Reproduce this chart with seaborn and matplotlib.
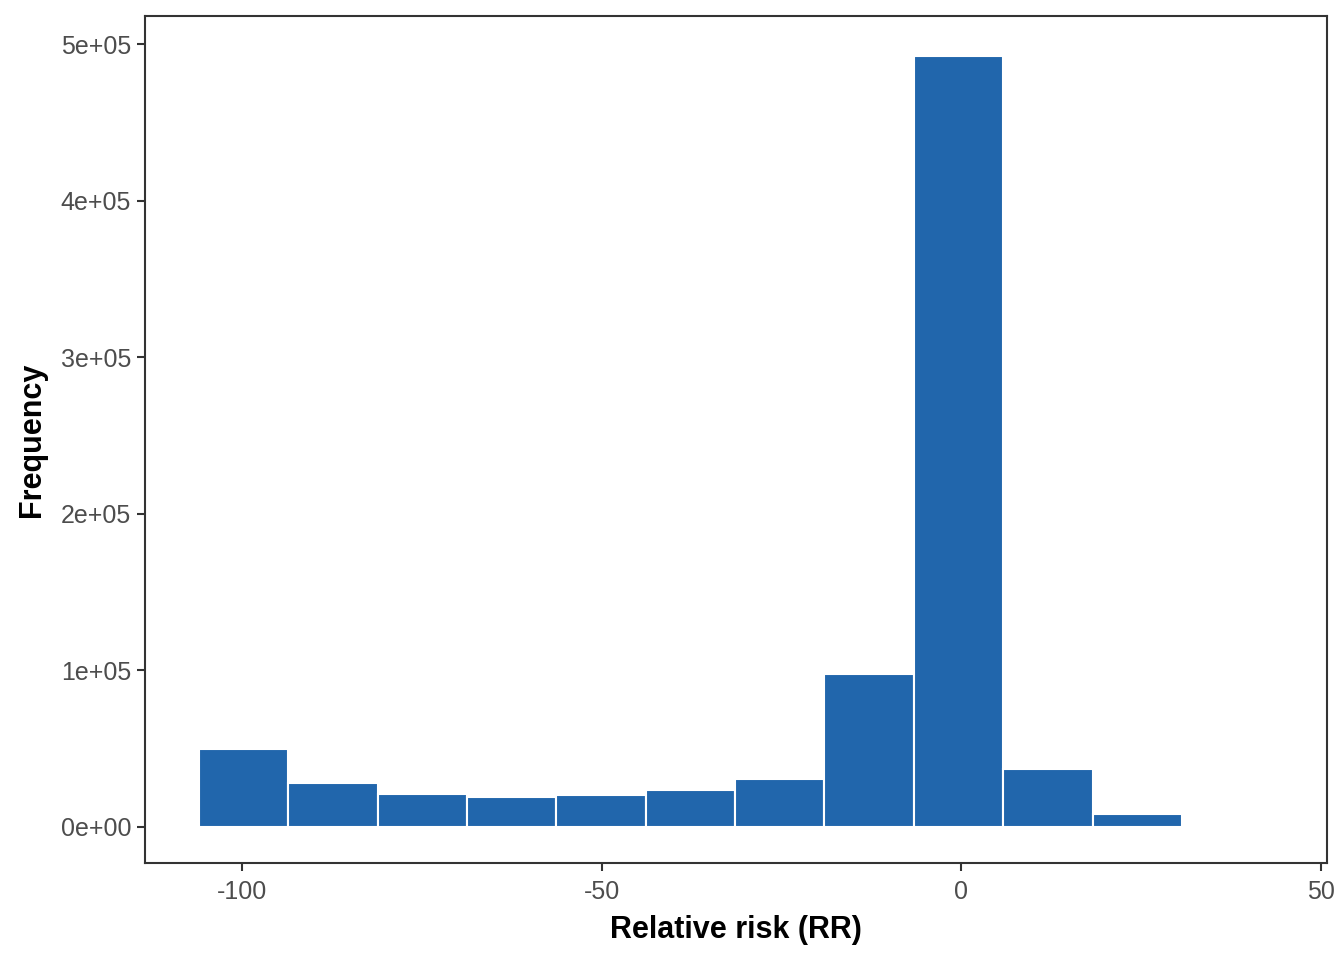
import numpy as np
import matplotlib
matplotlib.use("Agg")
import matplotlib.pyplot as plt
import seaborn as sns

# bin centres (RR) and counts
rr_centres = [-99.8, -87.4, -75.0, -62.5, -50.1, -37.7, -25.3, -12.8, -0.4, 12.0, 24.5]
counts = [49800, 28100, 21100, 19200, 20400, 23600, 30700, 97700, 492400, 37000, 8300]
bin_width = 12.43

sns.set_theme(style="white")
plt.rcParams['font.family'] = ['Liberation Sans', 'DejaVu Sans']
plt.rcParams['axes.unicode_minus'] = False

fig = plt.figure(figsize=(13.44, 9.6), dpi=100)
ax = fig.add_axes([145 / 1344, 1 - 863 / 960, 1182 / 1344, 847 / 960])

sns.histplot(x=rr_centres, weights=counts, binwidth=bin_width,
             binrange=(rr_centres[0] - bin_width / 2, rr_centres[-1] + bin_width / 2),
             color="#2166AC", alpha=1, edgecolor="white", linewidth=1.5, ax=ax)

ax.set_xlim(-113.5, 50.9)
ax.set_ylim(-23000, 518000)
ax.set_xticks([-100, -50, 0, 50])
ax.set_yticks([0, 100000, 200000, 300000, 400000, 500000])
ax.set_yticklabels(["0e+00", "1e+05", "2e+05", "3e+05", "4e+05", "5e+05"])
ax.set_xlabel("Relative risk (RR)", fontsize=22, fontweight="bold", color="black", labelpad=8)
ax.set_ylabel("Frequency", fontsize=22, fontweight="bold", color="black", labelpad=10)
ax.tick_params(axis="both", labelsize=18, labelcolor="#4D4D4D", color="#333333",
               length=6, width=1.5, direction="out", bottom=True, left=True, pad=6)
ax.tick_params(axis="y", pad=4)
for s in ax.spines.values():
    s.set_color("#333333")
    s.set_linewidth(1.5)

fig.savefig("out.png", dpi=100)
